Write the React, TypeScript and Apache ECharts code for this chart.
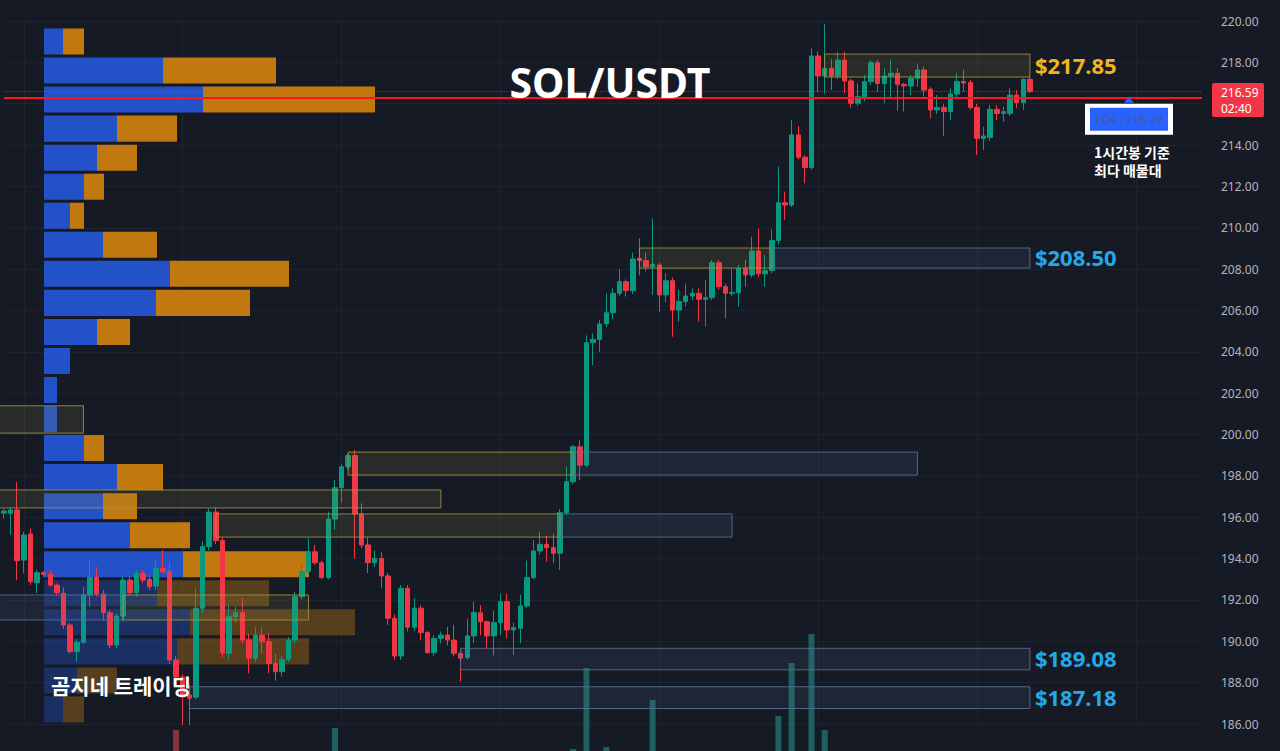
import React, { useEffect, useRef } from 'react';
import * as echarts from 'echarts';

// [open, close, low, high] per 1h candle
const candles: number[][] = [
  [196.2, 196.3, 195.95, 196.4], [196.19, 196.35, 195.14, 196.45], [196.35, 193.9, 192.96, 197.7], [193.93, 195.14, 193.29, 195.3],
  [195.19, 192.88, 192.72, 195.46], [192.83, 193.32, 192.32, 193.45], [193.32, 193.24, 193.1, 193.4], [193.25, 192.72, 192.64, 193.45],
  [192.72, 192.35, 192.24, 192.8], [192.32, 190.79, 190.6, 192.6], [190.79, 189.5, 189.4, 190.9], [189.5, 189.95, 189.0, 190.1],
  [189.95, 192.24, 189.9, 192.64], [192.24, 193.09, 191.67, 193.93], [193.09, 192.29, 192.16, 193.6], [192.29, 191.38, 191.03, 192.48],
  [191.38, 189.82, 189.66, 191.5], [189.82, 191.22, 189.66, 191.35], [191.22, 192.96, 190.95, 193.13], [192.96, 192.35, 192.24, 193.13],
  [192.35, 193.29, 192.16, 193.45], [193.29, 192.96, 192.8, 193.45], [193.0, 192.64, 192.48, 193.13], [192.67, 193.53, 192.48, 193.93],
  [193.53, 193.37, 193.3, 194.4], [193.37, 189.1, 188.9, 193.8], [189.1, 188.27, 188.0, 189.3], [188.27, 187.3, 185.95, 188.4],
  [187.4, 187.25, 185.95, 187.9], [187.3, 191.6, 187.2, 192.6], [191.6, 194.58, 191.4, 194.85], [194.58, 196.25, 194.4, 196.4],
  [196.25, 194.87, 194.7, 196.45], [194.87, 189.43, 189.2, 195.0], [189.42, 191.19, 189.1, 191.75], [191.19, 191.38, 190.9, 191.68],
  [191.38, 190.06, 189.9, 192.08], [190.06, 189.18, 188.45, 190.38], [189.18, 190.3, 189.0, 190.7], [190.3, 189.98, 189.4, 190.7],
  [189.98, 188.93, 188.45, 190.38], [188.93, 188.53, 188.1, 189.4], [188.53, 189.13, 188.3, 189.3], [189.13, 190.06, 189.0, 190.2],
  [190.06, 192.16, 189.9, 192.4], [192.16, 193.37, 192.0, 193.7], [193.37, 194.33, 193.3, 194.98], [194.33, 193.8, 193.7, 194.66],
  [193.8, 193.08, 193.0, 193.9], [193.08, 195.91, 193.0, 196.27], [195.91, 197.43, 195.4, 197.8], [197.43, 198.44, 196.7, 198.6],
  [198.44, 198.98, 198.3, 199.1], [198.98, 196.16, 194.0, 199.25], [196.16, 194.66, 194.5, 196.67], [194.66, 193.8, 193.3, 195.05],
  [193.8, 194.01, 193.6, 194.4], [194.01, 193.16, 192.56, 194.33], [193.16, 191.11, 190.79, 193.3], [191.11, 189.29, 189.1, 191.3],
  [189.29, 192.56, 189.1, 192.72], [192.56, 190.68, 190.47, 192.72], [190.68, 191.6, 190.5, 192.08], [191.6, 190.42, 190.06, 191.75],
  [190.42, 189.45, 189.4, 190.5], [189.45, 190.14, 189.3, 190.3], [190.14, 190.3, 189.9, 190.47], [190.3, 190.06, 189.8, 190.7],
  [190.06, 189.42, 189.26, 190.79], [189.42, 189.18, 188.05, 189.6], [189.22, 190.26, 189.1, 191.1], [190.26, 191.39, 189.9, 191.9],
  [191.38, 190.95, 190.3, 191.75], [190.95, 190.26, 189.65, 191.0], [190.26, 190.9, 189.3, 191.5], [190.9, 191.92, 190.3, 192.3],
  [191.92, 190.55, 190.14, 192.3], [190.55, 190.66, 189.34, 190.9], [190.63, 191.71, 189.9, 192.24], [191.71, 193.08, 191.6, 193.9],
  [193.08, 194.37, 193.0, 194.9], [194.37, 194.69, 194.2, 195.3], [194.69, 194.53, 193.85, 195.1], [194.53, 194.26, 193.77, 195.2],
  [194.26, 196.22, 193.45, 196.4], [196.22, 197.72, 196.1, 198.45], [197.72, 199.41, 197.6, 199.5], [199.41, 198.52, 197.8, 199.73],
  [198.52, 204.44, 198.4, 204.8], [204.44, 204.6, 203.36, 204.89], [204.6, 205.35, 204.0, 205.54], [205.35, 205.89, 205.2, 206.83],
  [205.89, 206.83, 205.6, 207.07], [206.83, 207.39, 206.7, 208.0], [207.39, 206.96, 206.67, 207.5], [206.96, 208.49, 206.8, 208.8],
  [208.52, 208.41, 207.7, 209.49], [208.41, 208.12, 207.9, 208.8], [208.12, 208.23, 206.75, 210.46], [208.2, 206.75, 205.94, 208.3],
  [206.75, 207.44, 206.4, 207.8], [207.44, 206.02, 204.73, 207.6], [206.02, 206.43, 205.46, 207.0], [206.43, 206.7, 206.2, 207.31],
  [206.7, 206.83, 206.5, 207.07], [206.83, 206.54, 205.46, 207.07], [206.54, 206.62, 205.22, 207.47], [206.62, 208.31, 206.5, 208.44],
  [208.31, 207.15, 207.0, 208.44], [207.15, 206.83, 205.62, 207.3], [206.83, 206.87, 206.7, 208.0], [206.86, 208.04, 206.2, 208.2],
  [208.04, 207.72, 207.15, 208.44], [207.72, 208.88, 207.6, 209.57], [208.88, 207.77, 207.6, 209.97], [207.77, 207.93, 207.15, 208.68],
  [207.93, 209.38, 207.8, 209.92], [209.38, 211.21, 209.2, 212.95], [211.21, 211.1, 210.38, 211.75], [211.1, 214.49, 211.0, 215.21],
  [214.49, 213.41, 213.3, 214.92], [213.41, 212.91, 212.15, 213.5], [212.91, 218.31, 212.8, 218.68], [218.31, 217.34, 216.58, 218.52],
  [217.34, 217.71, 216.5, 219.85], [217.71, 217.34, 216.66, 218.15], [217.34, 218.11, 217.2, 218.52], [218.11, 217.1, 216.5, 218.52],
  [217.1, 216.02, 215.8, 217.2], [216.02, 216.34, 215.9, 216.98], [216.34, 217.07, 216.1, 217.39], [217.07, 217.98, 216.9, 218.11],
  [217.98, 216.98, 216.58, 218.11], [216.98, 217.34, 216.02, 217.71], [217.34, 217.47, 216.26, 218.15], [217.47, 216.94, 215.66, 217.71],
  [216.94, 216.86, 215.62, 217.0], [216.86, 217.23, 216.42, 217.39], [217.23, 217.63, 216.82, 217.95], [217.63, 216.66, 216.34, 217.79],
  [216.7, 215.7, 215.29, 216.8], [215.7, 215.82, 215.5, 216.42], [215.82, 215.62, 214.44, 216.0], [215.62, 216.47, 215.2, 216.74],
  [216.47, 217.07, 216.3, 217.5], [217.07, 217.0, 216.58, 217.63], [217.02, 215.82, 215.7, 217.15], [215.82, 214.32, 213.52, 216.0],
  [214.32, 214.44, 213.76, 214.89], [214.37, 215.73, 214.2, 215.94], [215.73, 215.53, 215.21, 215.94], [215.53, 215.61, 215.13, 215.86],
  [215.53, 216.42, 215.4, 216.74], [216.42, 216.05, 215.78, 216.66], [216.05, 217.18, 215.7, 217.23], [217.18, 216.59, 216.5, 217.3],
];

const volumes: number[] = [
  30, 25, 52, 35, 45, 28, 18, 22, 20, 40, 38, 25, 42, 35, 28, 30, 38, 32, 36, 22,
  26, 18, 20, 30, 24, 58, 81, 55, 50, 57, 48, 40, 35, 56, 38, 22, 30, 32, 26, 20,
  30, 28, 22, 25, 40, 35, 33, 24, 26, 50, 83, 45, 38, 55, 42, 36, 22, 28, 40, 44,
  48, 36, 26, 28, 30, 22, 18, 20, 28, 35, 30, 32, 24, 22, 26, 30, 28, 18, 30, 40,
  42, 25, 22, 24, 52, 55, 62, 50, 143, 45, 48, 64, 50, 42, 35, 52, 38, 30, 111, 50,
  35, 45, 30, 26, 20, 32, 30, 45, 36, 30, 22, 34, 28, 40, 42, 26, 55, 95, 50, 148,
  58, 45, 177, 56, 81, 45, 40, 48, 45, 30, 35, 38, 40, 30, 32, 35, 25, 24, 28, 36,
  40, 22, 36, 30, 28, 24, 38, 50, 30, 40, 22, 20, 32, 22, 34, 20,
];

// 182 hourly slots (156 candles + right margin)
const slotCount = 182;
const categories: string[] = Array.from({ length: slotCount }, (_, i) => `T${i}`);

// Volume profile rows, top (highest price) to bottom
const profileBase = 186.0;
const profileRowSize = 1.4046;
const profileBuy = [19, 119, 159, 73, 53, 40, 26, 59, 126, 112, 53, 26, 13, 13, 40, 73, 59, 86, 139, 113, 146, 133, 33, 19];
const profileSell = [21, 113, 172, 60, 40, 20, 14, 54, 119, 94, 33, 0, 0, 0, 20, 46, 34, 60, 126, 112, 165, 132, 40, 21];
const profileInValueArea = [1, 1, 1, 1, 1, 1, 1, 1, 1, 1, 1, 1, 1, 1, 1, 1, 1, 1, 1, 0, 0, 0, 0, 0];

// Zones: candle index start/end, price low/high
const zoneStart = [124, 96, 116, 52, 86, -1, 32, 84, -1, 18, -1, 69, 28];
const zoneEnd = [155, 116, 155, 86, 138, 66, 84, 110, 18, 46, 12, 155, 155];
const zoneLow = [217.29, 208.05, 208.05, 198.04, 198.04, 196.45, 195.04, 195.04, 191.03, 191.03, 200.07, 188.62, 186.75];
const zoneHigh = [218.4, 209.02, 209.02, 199.15, 199.15, 197.32, 196.16, 196.16, 192.24, 192.24, 201.39, 189.66, 187.8];
const zoneKind = ['y', 'y', 'b', 'y', 'b', 'y', 'y', 'b', 'b', 'y', 'y', 'b', 'b'];
const zoneLabel = ['$217.85', '', '$208.50', '', '', '', '', '', '', '', '', '$189.08', '$187.18'];

const pocPrice = 216.29;
const lastPrice = 216.59;
const countdown = '02:40';

const UP = '#089981';
const DOWN = '#f23645';
const BG = '#161a25';

export default function App() {
  const ref = useRef<HTMLDivElement>(null);

  useEffect(() => {
    document.body.style.margin = '0';
    if (!ref.current) return;
    const chart = echarts.init(ref.current, undefined, { renderer: 'svg' });

    const option: any = {
      animation: false,
      backgroundColor: BG,
      grid: [
        { left: 4, right: 78, top: 21, bottom: 27 },
        { left: 44, right: 75, top: 21, bottom: 27 },
        { left: 4, right: 78, top: 600, bottom: 0 },
      ],
      xAxis: [
        {
          type: 'category', data: categories, boundaryGap: false, gridIndex: 0,
          axisLine: { show: false }, axisTick: { show: false }, axisLabel: { show: false },
          splitLine: { show: true, interval: (i: number) => (i - 3) % 24 === 0, lineStyle: { color: '#1f2330', width: 1 } },
        },
        { type: 'value', gridIndex: 1, min: 0, max: 1161, show: false },
        { type: 'category', data: categories, boundaryGap: false, gridIndex: 2, show: false },
      ],
      yAxis: [
        {
          type: 'value', gridIndex: 0, position: 'right', min: 186, max: 220, interval: 2,
          axisLine: { show: false }, axisTick: { show: false },
          axisLabel: {
            color: '#b2b5be', fontSize: 12, fontFamily: 'Noto Sans', margin: 19,
            // the tick hidden behind the last-price tag is not shown
            formatter: (v: number) => (Math.abs(v - lastPrice) < 0.7 ? '' : v.toFixed(2)),
          },
          splitLine: { show: true, lineStyle: { color: '#1f2330', width: 1 } },
        },
        { type: 'value', gridIndex: 1, min: 186, max: 220, show: false },
        { type: 'value', gridIndex: 2, min: 60, max: 211, show: false },
      ],
      series: [
        {
          type: 'bar', xAxisIndex: 2, yAxisIndex: 2, barWidth: 6, z: 1,
          data: volumes.map((v, i) => ({
            value: v,
            itemStyle: { color: candles[i][1] >= candles[i][0] ? 'rgba(38,166,154,0.5)' : 'rgba(239,83,80,0.5)' },
          })),
        },
        {
          type: 'line', xAxisIndex: 0, yAxisIndex: 0, data: [], z: 1,
          markLine: {
            silent: true, symbol: ['none', 'none'], label: { show: false },
            data: [
              { yAxis: pocPrice, lineStyle: { color: '#ff1522', width: 2, type: 'solid' } },
              { yAxis: lastPrice, lineStyle: { color: 'rgba(242,54,69,0.55)', width: 1, type: 'dotted' } },
            ],
          },
        },
        {
          type: 'custom', xAxisIndex: 1, yAxisIndex: 1, z: 2,
          data: profileBuy.map((b, i) => [23 - i, b, profileSell[i], profileInValueArea[i]]),
          renderItem: (params: any, api: any) => {
            const bin = api.value(0);
            const buy = api.value(1);
            const sell = api.value(2);
            const inVA = api.value(3) === 1;
            const low = profileBase + bin * profileRowSize;
            const high = low + profileRowSize;
            const a = api.coord([0, high]);
            const b = api.coord([buy, low]);
            const c = api.coord([buy + sell, low]);
            const y0 = a[1] + 1.5;
            const h = b[1] - a[1] - 3;
            const op = inVA ? 0.85 : 0.33;
            const children: any[] = [
              { type: 'rect', shape: { x: a[0], y: y0, width: b[0] - a[0], height: h }, style: { fill: '#265ce5', opacity: op } },
            ];
            if (sell > 0) {
              children.push({ type: 'rect', shape: { x: b[0], y: y0, width: c[0] - b[0], height: h }, style: { fill: '#de8a0c', opacity: op } });
            }
            return { type: 'group', children };
          },
        },
        {
          type: 'candlestick', xAxisIndex: 0, yAxisIndex: 0, z: 3, barWidth: 5,
          data: candles,
          itemStyle: { color: UP, color0: DOWN, borderColor: UP, borderColor0: DOWN, borderWidth: 1 },
        },
        {
          type: 'custom', xAxisIndex: 0, yAxisIndex: 0, z: 4, clip: false,
          data: zoneStart.map((s, i) => [s, zoneEnd[i], zoneLow[i], zoneHigh[i]]),
          encode: { x: [0, 1], y: [2, 3] },
          renderItem: (params: any, api: any) => {
            const i = params.dataIndex;
            const p0 = api.coord([api.value(0), api.value(3)]);
            const p1 = api.coord([api.value(1), api.value(2)]);
            const yellow = zoneKind[i] === 'y';
            const children: any[] = [
              {
                type: 'rect',
                shape: { x: p0[0], y: p0[1], width: p1[0] - p0[0], height: p1[1] - p0[1] },
                style: yellow
                  ? { fill: 'rgba(155,150,80,0.14)', stroke: 'rgba(160,152,62,0.85)', lineWidth: 1 }
                  : { fill: 'rgba(90,120,170,0.12)', stroke: 'rgba(90,115,150,0.85)', lineWidth: 1 },
              },
            ];
            if (zoneLabel[i]) {
              children.push({
                type: 'text', x: p1[0] + 5, y: (p0[1] + p1[1]) / 2 - 1,
                style: {
                  text: zoneLabel[i], fill: yellow ? '#f0b41e' : '#25a8e6',
                  font: 'bold 22px "Noto Sans"', align: 'left', verticalAlign: 'middle',
                },
              });
            }
            return { type: 'group', children };
          },
        },
      ],
    };
    chart.setOption(option);

    const yPoc = chart.convertToPixel({ yAxisIndex: 0 }, pocPrice) as number;
    const yLast = chart.convertToPixel({ yAxisIndex: 0 }, lastPrice) as number;

    chart.setOption({
      graphic: [
        { type: 'text', x: 610, y: 82, z: 10, style: { text: 'SOL/USDT', fill: '#ffffff', font: 'bold 41px "Noto Sans"', align: 'center', verticalAlign: 'middle' } },
        { type: 'text', x: 51, y: 685, z: 10, style: { text: '곰지네 트레이딩', fill: '#ffffff', font: 'bold 21px "Noto Sans CJK KR"', align: 'left', verticalAlign: 'middle' } },
        { type: 'polygon', z: 10, shape: { points: [[1124, yPoc + 5], [1129, yPoc - 1], [1134, yPoc + 5]] }, style: { fill: '#2962ff' } },
        { type: 'rect', z: 10, shape: { x: 1085, y: yPoc + 6, width: 88, height: 31 }, style: { fill: '#ffffff' } },
        { type: 'rect', z: 11, shape: { x: 1090, y: yPoc + 10, width: 78, height: 23 }, style: { fill: '#2962ff' } },
        { type: 'text', z: 12, x: 1129, y: yPoc + 21.5, style: { text: 'POC: 216.29', fill: '#4a5a8c', font: '12px "Noto Sans"', align: 'center', verticalAlign: 'middle' } },
        { type: 'text', z: 10, x: 1094, y: yPoc + 54, style: { text: '1시간봉 기준', fill: '#ffffff', font: 'bold 14px "Noto Sans CJK KR"', align: 'left', verticalAlign: 'middle' } },
        { type: 'text', z: 10, x: 1094, y: yPoc + 72, style: { text: '최다 매물대', fill: '#ffffff', font: 'bold 14px "Noto Sans CJK KR"', align: 'left', verticalAlign: 'middle' } },
        { type: 'rect', z: 10, shape: { x: 1212, y: yLast - 8.5, width: 52, height: 34, r: 2 }, style: { fill: DOWN } },
        { type: 'text', z: 11, x: 1221, y: yLast + 0.5, style: { text: lastPrice.toFixed(2), fill: '#ffffff', font: '12px "Noto Sans"', align: 'left', verticalAlign: 'middle' } },
        { type: 'text', z: 11, x: 1221, y: yLast + 16.5, style: { text: countdown, fill: '#ffffff', font: '12px "Noto Sans"', align: 'left', verticalAlign: 'middle' } },
      ],
    });

    return () => chart.dispose();
  }, []);

  return <div ref={ref} style={{ width: 1280, height: 751, background: BG }} />;
}
